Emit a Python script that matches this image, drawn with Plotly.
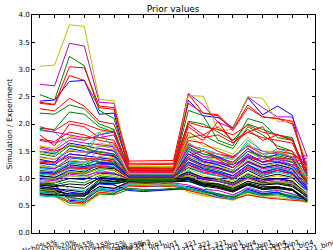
import plotly.graph_objects as go

title = "Prior values"
y_title = "Simulation / Experiment"
observables = [
    "Nch0%5%", "Nch10%20%", "pi_yield0%5%", "K_yield10%15%", "p_yield20%25%",
    "pT_mean30%35%", "dNdEta_bin3", "vn_pT_bin1", "vn_pT_bin1", "corr_211_321",
    "corr_211_321", "fluct_211_321", "HBT_211_bin1", "HBT_211_bin4", "HBT_321_bin1",
    "HBT_321_bin4", "v2_211_bin1", "v2_211_bin4", "v2_211_321_bin4",
]
y_ticks = [0.0, 0.5, 1.0, 1.5, 2.0, 2.5, 3.0, 3.5, 4.0]

# Each row: one design point, ratio simulation/experiment for each observable
ratios = [
    [2.42,2.44,2.78,2.80,2.18,2.20,1.15,1.14,1.14,1.15,2.44,2.15,2.12,1.93,2.48,2.17,2.33,2.16,1.05],
    [2.54,2.44,3.24,3.07,2.25,2.10,1.18,1.18,1.17,1.18,2.25,2.15,1.70,1.60,2.10,2.02,1.75,1.70,1.10],
    [2.40,2.36,3.05,3.03,2.33,2.30,1.32,1.32,1.32,1.33,2.55,2.20,2.17,1.90,2.35,2.13,2.10,2.00,1.20],
    [1.88,1.85,1.62,1.55,1.80,1.88,1.10,1.10,1.09,1.10,1.55,1.45,1.40,1.35,1.65,1.40,1.55,1.45,1.00],
    [2.73,2.70,3.48,3.43,2.40,2.38,1.20,1.20,1.20,1.21,2.56,2.35,2.03,1.92,2.50,2.30,2.13,2.13,1.40],
    [3.06,3.08,3.82,3.79,2.45,2.43,1.22,1.22,1.22,1.22,2.52,2.51,1.88,1.90,2.50,2.47,2.05,2.04,1.25],
    [0.80,0.78,0.70,0.70,0.95,0.92,0.98,0.97,0.96,0.98,0.95,0.88,0.85,0.78,0.88,0.80,0.82,0.78,0.60],
    [1.50,1.45,1.65,1.60,1.55,1.50,1.08,1.07,1.07,1.08,1.62,1.50,1.40,1.28,1.55,1.35,1.45,1.38,0.95],
    [1.92,1.90,2.22,2.18,1.95,1.85,1.15,1.15,1.14,1.15,1.75,1.80,1.65,1.55,1.95,1.80,1.60,1.50,1.15],
    [2.38,2.35,2.89,2.80,2.30,2.27,1.28,1.28,1.28,1.28,2.38,2.20,2.15,1.88,2.30,2.13,2.10,2.05,1.15],
    [1.25,1.20,1.30,1.28,1.40,1.45,1.02,1.02,1.01,1.02,1.45,1.30,1.25,1.15,1.40,1.30,1.35,1.25,0.85],
    [1.70,1.65,1.75,1.70,1.80,1.85,1.12,1.12,1.11,1.12,1.65,1.50,1.45,1.40,1.60,1.50,1.45,1.40,1.42],
    [1.60,1.55,1.78,1.72,1.85,1.90,1.10,1.10,1.10,1.10,1.80,1.60,1.55,1.45,1.75,1.50,1.50,1.45,1.20],
    [0.75,0.73,0.68,0.68,0.92,0.90,0.95,0.95,0.94,0.96,1.00,0.90,0.88,0.80,0.92,0.85,0.85,0.80,0.62],
    [1.05,1.02,1.15,1.12,1.25,1.20,1.00,1.00,1.00,1.00,1.25,1.15,1.10,1.00,1.18,1.05,1.15,1.08,0.75],
    [2.20,2.18,2.35,2.28,2.00,1.90,1.17,1.17,1.16,1.17,2.05,2.00,1.85,1.70,2.00,1.90,1.80,1.75,1.00],
    [2.28,2.24,2.47,2.33,2.05,2.00,1.25,1.25,1.25,1.26,2.03,1.95,1.90,1.80,1.98,1.85,1.80,1.70,1.10],
    [0.95,0.93,1.05,1.02,1.15,1.10,0.98,0.98,0.97,0.98,1.15,1.00,0.95,0.88,1.05,0.95,1.00,0.95,0.70],
    [1.32,1.30,1.45,1.42,1.55,1.52,1.05,1.05,1.04,1.05,1.40,1.30,1.28,1.20,1.42,1.30,1.32,1.25,0.90],
    [0.70,0.68,0.50,0.50,0.75,0.72,0.92,0.92,0.91,0.92,0.78,0.70,0.68,0.62,0.72,0.68,0.68,0.65,0.55],
    [0.85,0.82,0.78,0.75,0.98,0.95,1.00,0.99,0.98,1.00,1.05,0.95,0.90,0.85,1.00,0.90,0.92,0.88,0.65],
    [1.35,1.30,1.55,1.50,1.45,1.42,1.06,1.06,1.05,1.06,1.50,1.35,1.30,1.20,1.45,1.30,1.38,1.30,0.90],
    [1.10,1.08,1.20,1.18,1.30,1.25,1.02,1.02,1.01,1.02,1.30,1.20,1.15,1.05,1.25,1.10,1.20,1.12,0.80],
    [1.95,1.88,2.05,2.00,1.90,1.85,1.18,1.18,1.18,1.19,2.00,1.80,1.95,1.70,1.85,1.75,1.70,1.65,1.05],
    [1.28,1.25,1.18,1.20,1.58,1.62,1.04,1.04,1.04,1.05,1.52,1.40,1.30,1.25,1.50,1.40,1.38,1.30,0.95],
    [1.10,1.08,1.22,1.20,1.25,1.28,1.00,1.00,0.99,1.00,1.28,1.15,1.10,1.02,1.22,1.10,1.15,1.08,0.78],
    [1.12,1.10,1.20,1.15,1.32,1.28,1.03,1.03,1.02,1.03,1.35,1.22,1.18,1.10,1.30,1.18,1.25,1.18,0.85],
    [0.78,0.76,0.72,0.72,0.96,0.94,0.97,0.96,0.96,0.97,0.98,0.90,0.86,0.78,0.90,0.82,0.84,0.80,0.58],
    [0.92,0.90,0.60,0.58,0.80,0.78,0.88,0.85,0.86,0.88,0.82,0.75,0.72,0.65,0.78,0.70,0.75,0.62,0.60],
    [1.00,0.98,1.10,1.08,1.18,1.15,0.97,0.97,0.96,0.97,1.12,1.00,0.98,0.90,1.05,0.95,1.00,0.95,0.70],
    [1.72,1.68,1.85,1.80,1.70,1.65,1.14,1.14,1.13,1.14,1.95,1.75,1.80,1.65,1.90,1.70,1.80,1.72,1.00],
    [0.75,0.72,0.62,0.60,0.82,0.80,0.90,0.88,0.88,0.90,0.85,0.78,0.72,0.66,0.80,0.72,0.75,0.68,0.65],
    [1.40,1.35,1.50,1.48,1.50,1.45,1.06,1.06,1.05,1.06,1.45,1.35,1.30,1.25,1.40,1.35,1.30,1.25,1.30],
    [0.80,0.78,0.55,0.52,0.70,0.72,0.90,0.89,0.88,0.90,0.75,0.68,0.65,0.60,0.70,0.65,0.65,0.62,0.58],
    [0.90,0.88,0.85,0.82,1.02,1.00,1.01,1.00,1.00,1.01,1.08,0.98,0.95,0.88,1.02,0.92,0.95,0.90,0.68],
    [1.00,1.00,1.00,1.00,1.00,1.00,1.00,1.00,1.00,1.00,1.00,1.00,1.00,1.00,1.00,1.00,1.00,1.00,1.00],
    [1.15,1.12,1.28,1.25,1.35,1.30,1.03,1.03,1.02,1.03,1.35,1.25,1.20,1.12,1.30,1.20,1.25,1.18,0.82],
    [1.55,1.50,1.60,1.58,1.45,1.40,1.10,1.10,1.10,1.11,1.70,1.65,1.50,1.40,1.60,1.45,1.50,1.45,1.25],
    [1.02,1.00,0.80,0.78,0.95,0.92,0.95,0.94,0.94,0.95,0.95,0.85,0.70,0.68,0.85,0.75,0.80,0.70,0.68],
    [0.88,0.86,0.65,0.62,0.85,0.82,0.92,0.91,0.90,0.92,0.88,0.80,0.78,0.70,0.82,0.75,0.78,0.72,0.62],
    [1.38,1.35,1.52,1.48,1.60,1.55,1.07,1.07,1.06,1.07,1.55,1.40,1.35,1.28,1.50,1.35,1.40,1.32,0.98],
    [0.95,0.92,1.00,0.98,1.10,1.08,1.01,1.01,1.00,1.02,1.12,1.02,1.00,0.92,1.08,0.98,1.00,0.95,0.72],
    [1.20,1.18,1.38,1.35,1.30,1.28,1.04,1.04,1.03,1.04,1.38,1.25,1.20,1.10,1.32,1.20,1.25,1.18,0.82],
    [0.70,0.68,0.55,0.55,0.72,0.70,0.80,0.78,0.79,0.80,0.80,0.75,0.70,0.65,0.75,0.68,0.72,0.66,0.60],
    [1.80,1.60,2.00,1.95,1.75,1.70,1.15,1.15,1.14,1.15,1.85,1.70,2.05,1.65,1.85,1.95,1.55,1.50,0.95],
    [1.18,1.15,1.25,1.22,1.35,1.38,1.03,1.03,1.02,1.03,1.30,1.18,1.12,1.05,1.25,1.15,1.20,1.12,0.80],
    [0.98,0.96,1.08,1.05,1.12,1.10,0.99,0.99,0.98,0.99,1.10,1.00,0.95,0.88,1.02,0.95,0.98,0.92,0.70],
    [0.95,0.92,1.05,1.02,1.08,1.05,0.98,0.98,0.97,0.98,1.05,0.95,0.90,0.85,1.00,0.90,0.95,0.90,0.72],
    [1.05,1.02,1.12,1.10,1.20,1.18,1.02,1.02,1.01,1.02,1.20,1.10,1.05,0.98,1.15,1.02,1.08,1.02,0.75],
    [0.85,0.82,0.75,0.72,0.90,0.88,0.78,0.76,0.78,0.80,0.85,0.78,0.68,0.62,0.80,0.72,0.75,0.65,0.62],
    [1.45,1.40,1.60,1.55,1.48,1.45,1.08,1.08,1.07,1.08,1.58,1.45,1.38,1.25,1.50,1.40,1.42,1.35,0.92],
    [0.72,0.70,0.58,0.55,0.75,0.72,0.86,0.85,0.85,0.86,0.78,0.72,0.65,0.62,0.70,0.65,0.62,0.60,0.58],
    [1.08,1.05,1.18,1.15,1.25,1.22,1.01,1.01,1.00,1.01,1.22,1.10,1.05,0.98,1.18,1.05,1.12,1.05,0.78],
    [1.22,1.18,1.32,1.30,1.38,1.35,1.04,1.04,1.03,1.04,1.35,1.22,1.18,1.10,1.30,1.18,1.22,1.15,0.85],
    [1.02,1.00,1.12,1.10,1.18,1.15,1.00,1.00,0.99,1.00,1.18,1.05,1.00,0.95,1.10,1.00,1.05,1.00,0.75],
    [0.82,0.80,0.70,0.68,0.92,0.90,0.96,0.96,0.95,0.96,0.98,0.88,0.84,0.76,0.90,0.82,0.85,0.80,0.60],
    [1.28,1.25,1.45,1.42,1.38,1.35,1.05,1.05,1.04,1.05,1.45,1.32,1.25,1.15,1.38,1.25,1.30,1.22,0.88],
    [0.90,0.88,0.95,0.92,1.05,1.02,0.96,0.96,0.95,0.96,1.02,0.92,0.88,0.80,0.95,0.88,0.92,0.86,0.68],
    [1.10,1.08,1.20,1.18,1.22,1.20,1.02,1.02,1.01,1.02,1.25,1.12,1.08,1.00,1.20,1.08,1.15,1.08,0.80],
    [1.50,1.48,1.40,1.35,1.85,1.55,1.08,1.08,1.07,1.08,1.60,1.55,1.45,1.35,1.70,1.50,1.45,1.40,1.05],
    [1.58,1.52,1.70,1.65,1.62,1.58,1.09,1.09,1.08,1.09,1.62,1.50,1.45,1.38,1.60,1.45,1.48,1.40,1.10],
    [1.22,1.20,1.35,1.30,1.40,1.36,1.04,1.04,1.03,1.04,1.40,1.28,1.22,1.15,1.35,1.22,1.28,1.20,0.90],
    [0.88,0.85,0.90,0.88,1.00,0.98,0.99,0.99,0.98,0.99,1.02,0.92,0.90,0.82,0.95,0.88,0.90,0.85,0.66],
    [1.12,1.10,1.25,1.22,1.28,1.25,1.03,1.03,1.02,1.03,1.30,1.18,1.12,1.05,1.25,1.12,1.18,1.10,0.80],
    [0.78,0.75,0.65,0.62,0.78,0.75,0.82,0.80,0.80,0.82,0.82,0.76,0.72,0.66,0.76,0.70,0.72,0.68,0.62],
    [1.30,1.28,1.40,1.38,1.35,1.32,1.06,1.06,1.05,1.06,1.40,1.52,1.35,1.20,1.40,1.30,1.38,1.35,0.90],
    [0.68,0.66,0.70,0.68,0.80,0.75,0.88,0.87,0.86,0.88,0.82,0.74,0.66,0.62,0.78,0.68,0.70,0.64,0.60],
    [1.90,1.85,1.80,1.75,1.75,1.80,1.12,1.12,1.12,1.12,1.55,1.40,1.38,1.30,1.55,1.40,1.35,1.30,1.38],
    [1.48,1.42,1.62,1.58,1.65,1.60,1.09,1.09,1.08,1.09,1.65,1.50,1.45,1.35,1.62,1.45,1.50,1.40,1.00],
    [0.72,0.70,0.68,0.68,0.85,0.82,0.94,0.93,0.93,0.94,0.95,0.86,0.82,0.75,0.88,0.80,0.82,0.78,0.58],
]

colors = ["#0000ff", "#008000", "#ff0000", "#00bfbf", "#bf00bf", "#bfbf00", "#000000"]
FONT = "DejaVu Sans"

x_idx = list(range(len(observables)))
fig = go.Figure()
for i, row in enumerate(ratios):
    fig.add_trace(go.Scatter(
        x=x_idx, y=row, mode="lines",
        line=dict(color=colors[i % len(colors)], width=1),
        showlegend=False, hoverinfo="skip",
    ))

for i, lab in enumerate(observables):
    fig.add_annotation(
        x=i, y=-0.014, xref="x", yref="paper", text=lab, showarrow=False,
        textangle=-15, xanchor="center", yanchor="top",
        font=dict(family=FONT, size=7, color="black"),
    )

axis_common = dict(
    showline=True, linecolor="black", linewidth=1, mirror="ticks",
    ticks="inside", ticklen=3, tickcolor="black", tickwidth=1,
    showgrid=False, zeroline=False,
    tickfont=dict(family=FONT, size=7, color="black"),
)
fig.update_xaxes(range=[-0.52, 18.52], tickvals=x_idx, showticklabels=False,
                 **axis_common)
fig.update_yaxes(range=[0, 4], tickvals=y_ticks, ticktext=[f"{v:.1f}" for v in y_ticks],
                 title=dict(text=y_title, font=dict(family=FONT, size=7.5, color="black"), standoff=4),
                 **axis_common)

fig.update_layout(
    width=333, height=250,
    margin=dict(l=32, r=18, t=15, b=17, autoexpand=False),
    paper_bgcolor="white", plot_bgcolor="white",
    title=dict(text=title, x=0.52, xanchor="center", y=0.966, yanchor="middle",
               font=dict(family=FONT, size=9, color="black")),
)

fig.write_html(
    "out.html",
    config={"displayModeBar": False},
    post_script="document.body.style.margin='0';document.body.style.padding='0';document.body.style.overflow='hidden';",
)
